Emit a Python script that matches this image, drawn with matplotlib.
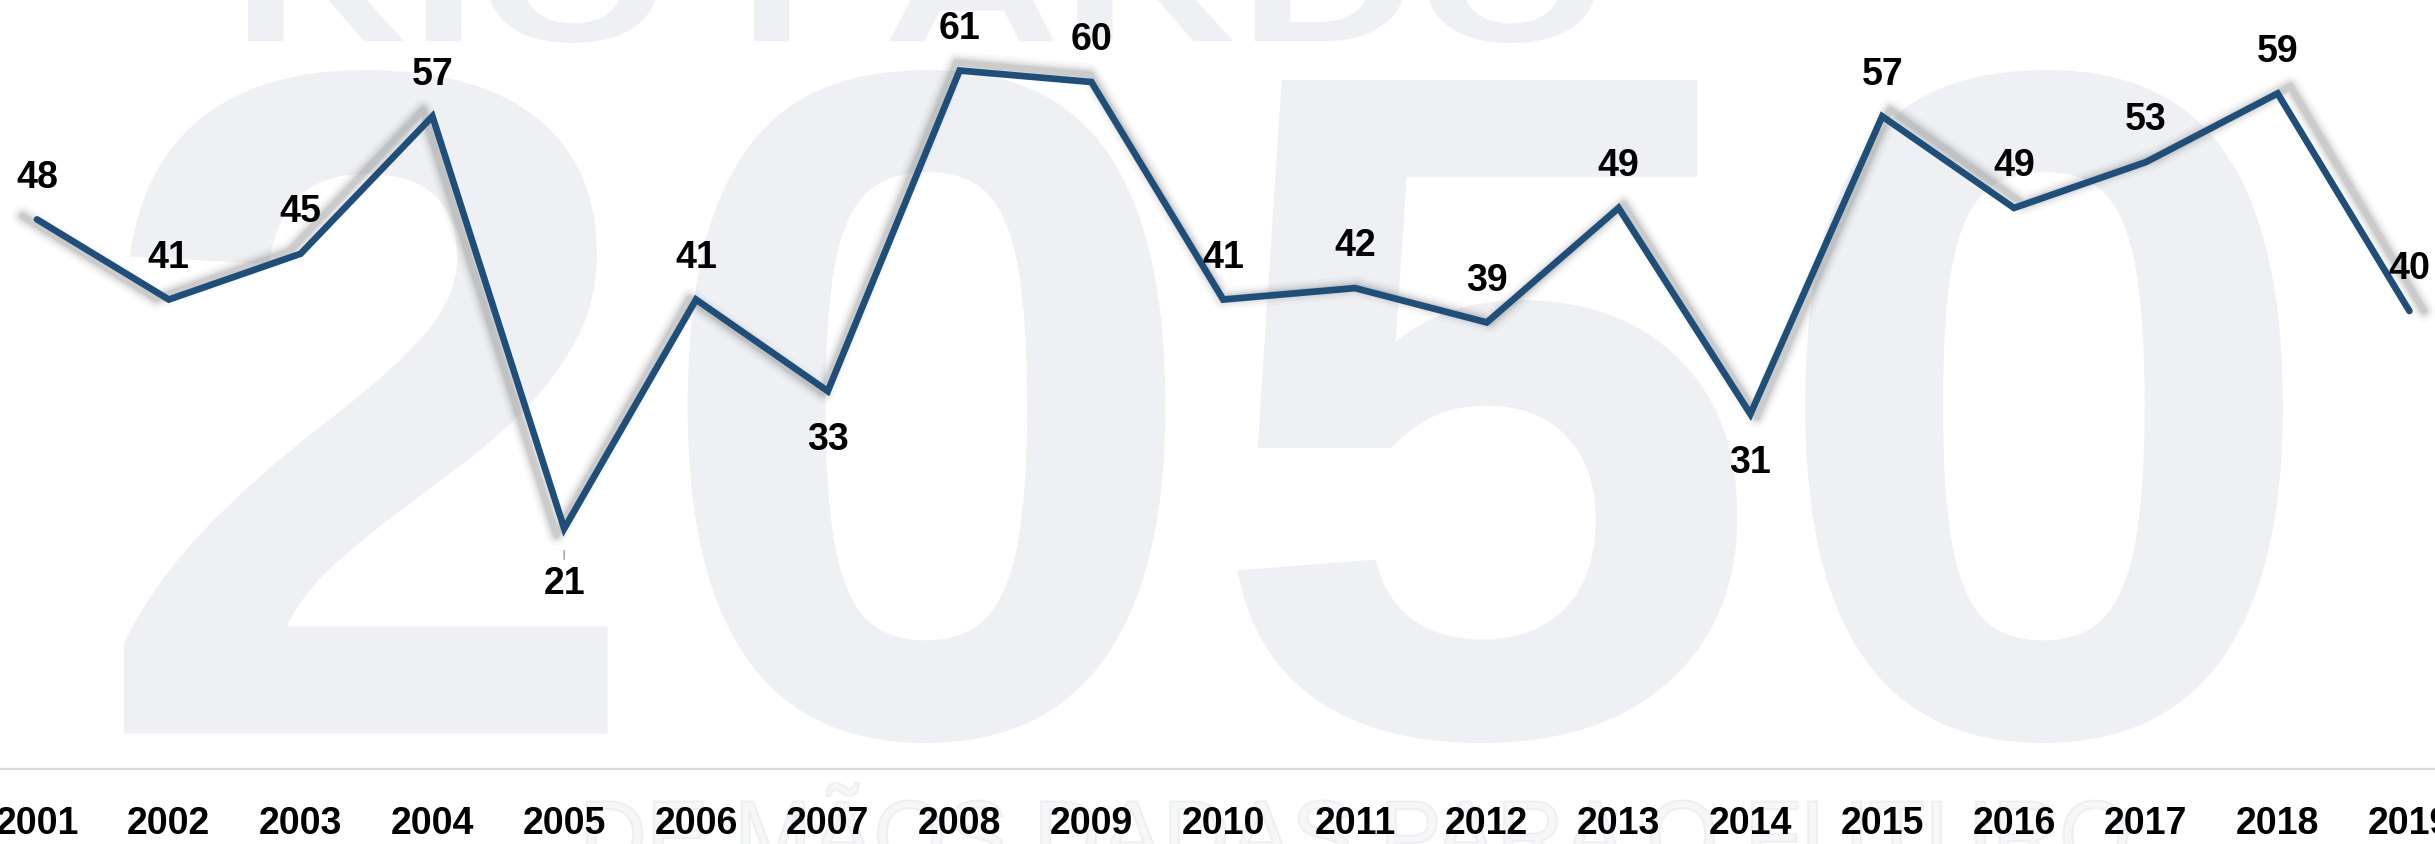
import numpy as np
import matplotlib
matplotlib.use("Agg")
import matplotlib.pyplot as plt
from matplotlib.textpath import TextPath
from matplotlib.patches import PathPatch
from matplotlib.font_manager import FontProperties
from matplotlib.transforms import Affine2D

# --- dados ---
anos = ["2001", "2002", "2003", "2004", "2005", "2006", "2007", "2008", "2009", "2010",
        "2011", "2012", "2013", "2014", "2015", "2016", "2017", "2018", "2019"]
valores = [48, 41, 45, 57, 21, 41, 33, 61, 60, 41, 42, 39, 49, 31, 57, 49, 53, 59, 40]
rotulos_abaixo = ["2005", "2007", "2014"]

W, H = 2435, 844
AZUL = "#1F4E79"
MARCA = "#EFF0F3"
FONTE = ["Liberation Sans Narrow", "Liberation Sans", "DejaVu Sans"]
TAM = 27

fig = plt.figure(figsize=(W / 100, H / 100), dpi=100)
fig.patch.set_facecolor("white")

# --- marca d'agua ao fundo ---
bg = fig.add_axes([0, 0, 1, 1], zorder=0)
bg.set_xlim(0, W)
bg.set_ylim(H, 0)
bg.axis("off")

fp_bold = FontProperties(family="Liberation Sans", weight="bold")
fp_reg = FontProperties(family="Liberation Sans")


def marca(texto, x0, x1, y0, y1, fp, cor, borda="none"):
    path = TextPath((0, 0), texto, size=1, prop=fp)
    ext = path.get_extents()
    sx = (x1 - x0) / ext.width
    sy = (y1 - y0) / ext.height
    tr = Affine2D().translate(-ext.x0, -ext.y1).scale(sx, -sy).translate(x0, y0)
    bg.add_patch(PathPatch(tr.transform_path(path), facecolor=cor, edgecolor=borda, lw=1.5))


marca("RIO PARDO", 248, 1597, -80, 43, fp_bold, MARCA)
marca("2050", 124, 2283, 70, 743, fp_bold, MARCA)
marca("DE MÃOS DADAS PARA O FUTURO", 587, 2127, 783, 870, fp_reg, "#F7F7F9", "#EEEFF2")

# --- grafico ---
y0_px = 769
unid = 11.45
x0_px = 37
passo = 131.8

ax = fig.add_axes([0, (H - y0_px) / H, 1, y0_px / H], zorder=2)
ax.patch.set_alpha(0)
x = np.arange(len(anos))
ax.set_xlim(-x0_px / passo, (W - x0_px) / passo)
ax.set_ylim(0, y0_px / unid)

# sombra desfocada (perspectiva)
cx, cy = 1220, H - 330
sombra_tr = ax.transData + Affine2D().translate(-cx, -cy).scale(1.012, 1.03).translate(cx, cy)
for lw, a in [(16, 0.04), (12, 0.06), (9, 0.08), (6.5, 0.10), (4.5, 0.12)]:
    ax.plot(x, valores, color="#6E6E6E", lw=lw, alpha=a, transform=sombra_tr,
            solid_joinstyle="round", solid_capstyle="round", zorder=1)

ax.plot(x, valores, color=AZUL, lw=4.8, solid_joinstyle="miter",
        solid_capstyle="round", zorder=3)

for i, (ano, v) in enumerate(zip(anos, valores)):
    if ano in rotulos_abaixo:
        off = -40 if ano == "2005" else -35
        arrow = dict(arrowstyle="-", color="#A6A6A6", lw=1.2, shrinkA=3, shrinkB=16) if ano == "2005" else None
        ax.annotate(str(v), xy=(i, v), xytext=(0, off), textcoords="offset points",
                    ha="center", va="center", fontsize=TAM, fontweight="bold",
                    family=FONTE, color="black", zorder=4,
                    arrowprops=arrow, annotation_clip=False)
    else:
        ax.annotate(str(v), xy=(i, v), xytext=(0, 30), textcoords="offset points",
                    ha="center", va="center", fontsize=TAM, fontweight="bold",
                    family=FONTE, color="black", zorder=4,
                    annotation_clip=False)

# eixo X
for s in ["top", "left", "right"]:
    ax.spines[s].set_visible(False)
ax.spines["bottom"].set_color("#D9D9D9")
ax.spines["bottom"].set_linewidth(1.6)
ax.set_yticks([])
ax.set_xticks([])
for i, ano in enumerate(anos):
    ax.text(i, -55 / y0_px, ano, transform=ax.get_xaxis_transform(), ha="center",
            va="center", fontsize=TAM, fontweight="bold", family=FONTE,
            color="black", clip_on=False)

fig.savefig("out.png", dpi=100, facecolor="white")
